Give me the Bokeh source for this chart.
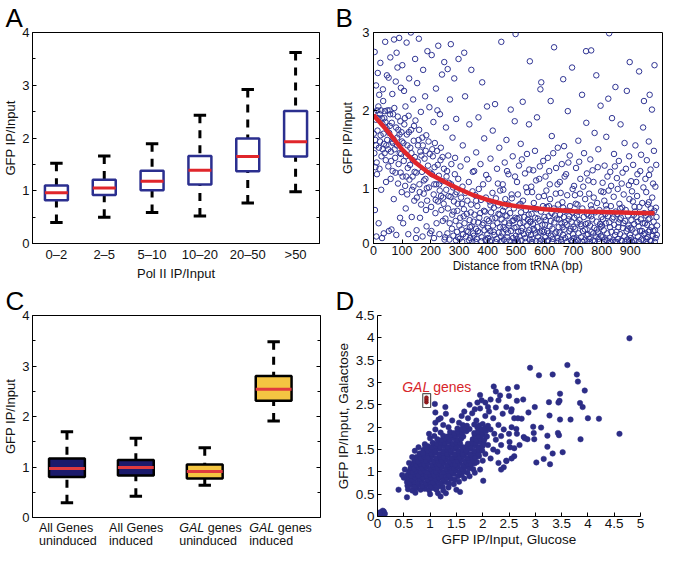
from bokeh.plotting import figure
from bokeh.layouts import column, row
from bokeh.models import FixedTicker, LinearAxis, Label, Div
from bokeh.embed import file_html
from bokeh.resources import INLINE

FONT = "Liberation Sans"

# ---------------- Panel A data ----------------
A_CATS = ["0–2", "2–5", "5–10", "10–20", "20–50", ">50"]
A_LOW = [0.40, 0.50, 0.59, 0.52, 0.77, 0.98]
A_Q1 = [0.82, 0.92, 1.01, 1.12, 1.37, 1.65]
A_MED = [0.96, 1.05, 1.18, 1.39, 1.65, 1.93]
A_Q3 = [1.10, 1.21, 1.38, 1.66, 1.99, 2.51]
A_HIGH = [1.52, 1.66, 1.89, 2.43, 2.92, 3.62]
A_YTICKS = [0, 1, 2, 3, 4]

# ---------------- Panel B data ----------------
B_XTICKS = [0, 100, 200, 300, 400, 500, 600, 700, 800, 900]
B_YTICKS = [0.29, 1, 2, 3]
B_YLABELS = ["0", "1", "2", "3"]
FIT_X = [0, 50, 100, 150, 200, 250, 300, 350, 400, 450, 500, 600, 700, 800, 900, 985]
FIT_Y = [1.94, 1.73, 1.50, 1.32, 1.18, 1.08, 0.99, 0.91, 0.85, 0.80, 0.77, 0.73, 0.705, 0.695, 0.685, 0.68]
B_POINTS = [
    (3,1.45),(6,1.62),(8,1.88),(11,1.33),(14,1.74),(17,2.05),(19,1.52),(22,1.95),(25,1.68),(28,1.41),(31,1.83),(34,2.12),
    (37,1.57),(40,1.99),(43,1.36),(46,1.77),(48,1.62),(12,1.18),(2,1.98),(7,1.27),(16,1.9),(21,1.25),(26,2.0),(32,1.5),
    (38,1.9),(45,1.55),(4,2.75),(9,2.32),(15,2.48),(24,2.61),(33,2.27),(41,2.88),(47,2.45),(20,2.2),
    (5,0.72),(10,0.38),(18,0.55),(27,0.98),(36,0.42),(44,1.08),(30,0.36),
    (52,1.28),(55,1.71),(58,1.95),(61,1.47),(64,1.84),(67,1.22),(70,1.63),(73,2.03),(76,1.39),(79,1.78),(82,1.55),(85,1.92),
    (88,1.31),(91,1.69),(94,1.86),(97,1.44),(60,1.12),(86,1.06),(56,2.0),(68,1.58),(83,1.65),(98,1.72),
    (53,2.42),(59,2.68),(66,2.21),(72,2.91),(78,2.37),(84,2.55),(90,2.93),(96,2.29),(81,2.74),
    (54,0.45),(63,0.47),(71,0.86),(80,0.40),(93,0.62),(99,0.95),
    (102,1.15),(105,1.58),(108,1.82),(111,1.03),(114,1.41),(117,1.69),(120,1.26),(123,1.93),(126,1.11),(129,1.52),(132,1.75),
    (135,0.98),(138,1.36),(141,1.61),(144,1.21),(147,1.87),(118,0.92),(140,1.02),
    (101,2.58),(107,2.25),(116,2.87),(125,2.41),(131,3.0),(139,2.14),(146,2.66),(112,2.05),
    (104,0.55),(113,0.74),(122,0.41),(134,0.63),(143,0.84),(149,0.36),
    (152,0.88),(155,1.34),(158,1.62),(161,1.05),(164,1.47),(167,0.79),(170,1.21),(173,1.55),(176,0.93),(179,1.38),(182,1.12),
    (185,1.68),(188,0.84),(191,1.29),(194,1.01),(197,1.44),(160,1.75),(184,0.72),
    (153,2.35),(159,2.92),(166,1.98),(174,2.52),(181,2.18),(189,2.76),(196,2.04),
    (151,0.46),(163,0.62),(172,0.38),(186,0.51),(198,0.42),
    (202,0.76),(205,1.18),(208,1.41),(211,0.92),(214,1.27),(217,0.68),(220,1.05),(223,1.48),(226,0.83),(229,1.16),(232,0.97),
    (235,1.36),(238,0.72),(241,1.09),(244,0.88),(247,1.25),(215,1.58),(236,1.52),
    (204,2.71),(210,1.85),(219,2.28),(227,2.83),(233,1.95),(240,2.46),(248,2.62),(224,2.0),
    (203,0.45),(212,0.36),(221,0.55),(231,0.41),(243,0.58),(249,0.34),
    (252,0.61),(255,0.98),(258,1.22),(261,0.74),(264,1.07),(267,0.55),(270,0.89),(273,1.31),(276,0.66),(279,1.01),(282,0.83),
    (285,1.18),(288,0.58),(291,0.95),(294,0.71),(297,1.12),(262,1.42),(286,1.39),(275,0.48),(293,0.44),
    (254,1.78),(260,2.53),(268,2.14),(277,1.65),(283,2.41),(290,1.89),(298,2.66),(271,2.85),
    (251,0.37),(259,0.42),(266,0.34),(280,0.39),(289,0.33),(296,0.37),
    (302,0.35),(304,0.62),(307,0.88),(309,0.47),(312,1.02),(314,0.41),(317,0.73),(319,0.55),(322,0.94),(324,0.38),(327,0.67),
    (329,0.84),(332,0.44),(334,1.08),(337,0.59),(339,0.36),(342,0.79),(344,0.51),(347,0.96),(349,0.42),
    (305,1.28),(313,1.55),(321,2.18),(328,1.37),(336,1.82),(343,2.52),(348,1.21),(318,2.74),
    (352,0.39),(354,0.66),(357,0.91),(359,0.48),(362,0.35),(364,0.77),(367,0.56),(369,0.99),(372,0.43),(374,0.68),(377,0.85),
    (379,0.37),(382,0.53),(384,1.05),(387,0.71),(389,0.46),(392,0.34),(394,0.88),(397,0.6),(399,0.41),
    (353,1.22),(360,1.46),(368,1.91),(375,1.31),(381,2.36),(388,1.64),(395,1.17),(398,2.05),
    (402,0.36),(404,0.58),(407,0.83),(409,0.45),(412,0.69),(414,0.33),(417,0.94),(419,0.52),(422,0.75),(424,0.4),(427,0.62),
    (429,0.87),(432,0.35),(434,0.55),(437,0.78),(439,0.43),(442,0.66),(444,0.97),(447,0.38),(449,0.6),
    (403,1.12),(410,1.38),(418,1.74),(426,2.08),(433,1.25),(441,1.52),(448,2.88),(436,1.06),
    (452,0.42),(454,0.71),(457,0.34),(459,0.56),(462,0.86),(464,0.47),(467,0.64),(469,0.37),(472,0.79),(474,0.52),(477,0.33),
    (479,0.68),(482,0.45),(484,0.92),(487,0.58),(489,0.36),(492,0.74),(494,0.49),(497,0.62),(499,0.39),
    (453,1.05),(460,1.33),(466,1.62),(473,1.18),(481,2.01),(488,1.41),(495,1.86),(498,2.98),
    (502,0.35),(504,0.61),(507,0.44),(509,0.78),(512,0.38),(514,0.55),(517,0.69),(519,0.33),(522,0.49),(524,0.84),(527,0.41),
    (529,0.63),(532,0.36),(534,0.72),(537,0.52),(539,0.95),(542,0.43),(544,0.66),(547,0.34),(549,0.57),
    (503,1.08),(510,1.29),(516,1.57),(523,2.11),(531,1.19),(538,1.44),(545,1.82),(548,2.63),
    (552,0.4),(554,0.67),(557,0.35),(559,0.54),(562,0.81),(564,0.46),(567,0.62),(569,0.32),(572,0.73),(574,0.5),(577,0.38),
    (579,0.89),(582,0.58),(584,0.43),(587,0.7),(589,0.34),(592,0.53),(594,0.77),(597,0.44),(599,0.63),
    (553,1.02),(560,1.23),(566,1.48),(573,1.91),(581,1.12),(588,2.36),(595,1.35),(585,2.27),
    (602,0.37),(604,0.59),(607,0.76),(609,0.45),(612,0.33),(614,0.64),(617,0.51),(619,0.86),(622,0.39),(624,0.68),(627,0.48),
    (629,0.35),(632,0.74),(634,0.56),(637,0.42),(639,0.93),(642,0.61),(644,0.36),(647,0.79),(649,0.5),
    (603,1.15),(611,1.39),(618,1.05),(625,1.67),(633,2.81),(640,1.26),(646,1.52),(621,2.12),
    (652,0.43),(654,0.66),(657,0.34),(659,0.55),(662,0.82),(664,0.4),(667,0.63),(669,0.47),(672,0.36),(674,0.71),(677,0.53),
    (679,0.91),(682,0.38),(684,0.6),(687,0.45),(689,0.77),(692,0.33),(694,0.57),(697,0.69),(699,0.41),
    (653,1.08),(660,1.31),(668,1.54),(675,1.18),(681,1.99),(688,1.42),(696,2.55),(665,2.4),
    (702,0.36),(704,0.62),(707,0.48),(709,0.8),(712,0.34),(714,0.56),(717,0.7),(719,0.42),(722,0.59),(724,0.93),(727,0.37),
    (729,0.51),(732,0.74),(734,0.45),(737,0.63),(739,0.33),(742,0.86),(744,0.54),(747,0.4),(749,0.67),
    (703,1.03),(710,1.26),(718,1.61),(725,1.12),(731,2.2),(738,1.45),(746,1.84),(745,2.76),
    (752,0.41),(754,0.65),(757,0.35),(759,0.52),(762,0.78),(764,0.44),(767,0.6),(769,0.33),(772,0.88),(774,0.49),(777,0.69),
    (779,0.38),(782,0.57),(784,0.81),(787,0.43),(789,0.35),(792,0.72),(794,0.54),(797,0.39),(799,0.63),
    (753,1.1),(760,1.37),(768,1.23),(775,1.71),(781,2.45),(788,1.5),(796,2.06),(763,2.77),
    (802,0.37),(804,0.6),(807,0.46),(809,0.84),(812,0.34),(814,0.55),(817,0.73),(819,0.42),(822,0.64),(824,0.97),(827,0.36),
    (829,0.5),(832,0.77),(834,0.44),(837,0.61),(839,0.33),(842,0.89),(844,0.53),(847,0.4),(849,0.7),
    (803,1.07),(810,1.29),(816,1.66),(823,2.15),(830,1.21),(836,1.9),(843,1.44),(848,2.3),(826,2.99),
    (852,0.44),(854,0.67),(857,0.35),(859,0.56),(862,0.8),(864,0.41),(867,0.62),(869,0.33),(872,0.75),(874,0.49),(877,0.92),
    (879,0.38),(882,0.58),(884,0.72),(887,0.45),(889,0.34),(892,0.65),(894,0.52),(897,0.86),(899,0.4),
    (853,1.13),(860,1.35),(866,1.82),(873,1.2),(880,1.58),(888,2.25),(895,1.04),(898,2.62),
    (902,0.36),(904,0.59),(907,0.47),(909,0.83),(912,0.33),(914,0.54),(917,0.7),(919,0.43),(922,0.63),(924,0.9),(927,0.38),
    (929,0.51),(932,0.76),(934,0.45),(937,0.6),(939,0.34),(942,0.81),(944,0.55),(947,0.41),(949,0.68),
    (903,1.09),(910,1.3),(918,1.55),(925,1.18),(931,2.5),(938,1.43),(945,1.78),(948,2.12),
    (952,0.42),(954,0.65),(957,0.35),(959,0.53),(962,0.79),(964,0.44),(967,0.61),(969,0.33),(972,0.74),(974,0.5),(977,0.88),
    (979,0.39),(982,0.57),(984,0.71),(987,0.46),(989,0.36),(992,0.63),(994,0.52),(975,0.68),(961,0.37),
    (953,1.12),(958,1.36),(965,1.6),(971,1.24),(976,2.01),(983,1.48),(988,1.02),(985,2.58),(968,2.2),
    (455,0.98),(468,1.22),(485,0.87),(496,1.15),(506,0.92),(520,1.37),(535,1.01),(546,1.24),(556,0.95),(570,1.1),(583,1.28),
    (598,0.9),(606,0.97),(616,1.22),(630,1.45),(645,1.05),(656,0.94),(670,1.15),(683,1.33),(698,0.99),(706,0.91),(721,1.34),
    (735,1.02),(748,1.19),(756,0.93),(771,1.08),(786,1.27),(798,0.96),(806,0.95),(820,1.15),(833,1.03),(846,1.28),(856,0.99),
    (870,1.06),(885,1.25),(896,1.41),(906,0.96),(921,1.08),(935,1.22),(946,1.01),(956,0.95),(966,1.17),(980,1.06),(991,1.3),
    (301,0.52),(311,0.31),(316,0.64),(326,0.45),(335,0.33),(341,0.69),(346,0.31),(338,0.5),
    (351,0.57),(358,0.31),(366,0.45),(371,0.62),(378,0.32),(386,0.55),(391,0.7),(396,0.33),
    (401,0.49),(408,0.32),(416,0.61),(421,0.44),(428,0.31),(438,0.67),(443,0.5),(446,0.31),
    (451,0.32),(456,0.5),(463,0.65),(471,0.43),(476,0.55),(483,0.31),(491,0.59),(496,0.31),
    (501,0.5),(506,0.31),(511,0.62),(518,0.45),(526,0.56),(533,0.31),(541,0.6),(546,0.46),
    (551,0.57),(556,0.31),(561,0.48),(568,0.42),(576,0.61),(583,0.32),(591,0.45),(596,0.32),
    (601,0.53),(608,0.32),(613,0.42),(621,0.58),(626,0.31),(636,0.65),(641,0.44),(648,0.32),
    (651,0.6),(658,0.31),(663,0.5),(671,0.56),(678,0.31),(686,0.64),(691,0.48),(698,0.32),
    (701,0.5),(708,0.31),(713,0.65),(718,0.33),(726,0.54),(733,0.31),(741,0.47),(748,0.32),
    (751,0.55),(758,0.31),(763,0.64),(771,0.42),(776,0.32),(783,0.47),(791,0.31),(796,0.5),
    (801,0.52),(808,0.31),(813,0.67),(818,0.33),(826,0.56),(831,0.31),(841,0.63),(846,0.31),
    (851,0.31),(858,0.5),(863,0.6),(871,0.32),(876,0.55),(883,0.31),(891,0.48),(896,0.32),
    (901,0.49),(906,0.31),(913,0.66),(918,0.32),(926,0.57),(931,0.31),(941,0.45),(946,0.33),
    (951,0.55),(956,0.31),(963,0.6),(968,0.46),(973,0.32),(981,0.45),(986,0.31),(993,0.4),
    (310,0.8),(360,0.84),(410,0.78),(460,0.76),(515,0.8),(565,0.74),(615,0.77),(665,0.75),(715,0.79),(765,0.73),
    (815,0.78),(865,0.74),(915,0.76),(965,0.82),(990,0.75),
    (1,1.7),(9,1.55),(13,2.0),(23,1.6),(29,1.9),(35,1.7),(39,1.45),(42,1.85),(49,2.0),(51,1.5),(57,1.8),(62,1.35),
    (65,1.6),(69,1.95),(74,1.5),(77,1.2),(87,1.75),(92,1.45),(95,1.2),(100,1.6),(106,1.35),(110,1.9),(115,1.15),
    (119,1.55),(124,1.72),(128,1.3),(133,1.45),(137,1.15),(142,1.8),(145,1.4),(150,1.2),(156,1.55),(162,0.95),
    (168,1.42),(171,1.65),(177,1.1),(183,1.48),(187,1.0),(193,1.6),(199,1.2),(206,1.5),(213,1.05),(218,0.85),
    (225,1.3),(230,1.05),(237,0.9),(242,1.4),(246,0.8),(256,1.15),(263,0.9),(272,1.05),(281,0.7),(287,0.92),(295,0.8),
]

# ---------------- Panel C data ----------------
C_LINE1 = ["All Genes", "All Genes", "GAL genes", "GAL genes"]
C_LINE2 = ["uninduced", "induced", "uninduced", "induced"]
C_GROUP = ["all", "all", "gal", "gal"]
C_LOW = [0.29, 0.42, 0.64, 1.91]
C_Q1 = [0.80, 0.83, 0.77, 2.31]
C_MED = [0.97, 0.99, 0.91, 2.54]
C_Q3 = [1.17, 1.14, 1.05, 2.80]
C_HIGH = [1.70, 1.57, 1.38, 3.48]
C_YTICKS = [0, 1, 2, 3, 4]

# ---------------- Panel D data ----------------
D_XTICKS = [0, 0.5, 1, 1.5, 2, 2.5, 3, 3.5, 4, 4.5, 5]
D_XLABELS = ["0", "0.5", "1", "1.5", "2", "2.5", "3", "3.5", "4", "4.5", "5"]
D_YTICKS = [0, 0.5, 1, 1.5, 2, 2.5, 3, 3.5, 4, 4.5]
D_YLABELS = ["0", "0.5", "1", "1.5", "2", "2.5", "3", "3.5", "4", "4.5"]
D_POINTS = [
    (0.58,0.61),(0.66,0.58),(0.74,0.63),(0.82,0.6),(0.9,0.62),(0.98,0.59),(1.06,0.64),(1.12,0.6),
    (0.57,0.69),(0.64,0.7),(0.71,0.67),(0.79,0.71),(0.86,0.68),(0.94,0.7),(1.01,0.67),(1.09,0.71),(1.17,0.68),(1.24,0.66),
    (0.56,0.77),(0.62,0.75),(0.69,0.78),(0.77,0.76),(0.84,0.79),(0.91,0.75),(0.99,0.78),(1.06,0.76),(1.14,0.79),(1.21,0.75),
    (1.29,0.77),(1.36,0.74),
    (0.58,0.85),(0.65,0.83),(0.72,0.86),(0.8,0.84),(0.87,0.87),(0.95,0.83),(1.02,0.86),(1.1,0.84),(1.17,0.87),(1.25,0.83),
    (1.32,0.86),(1.4,0.84),(1.47,0.82),
    (0.57,0.93),(0.64,0.91),(0.71,0.94),(0.78,0.92),(0.86,0.95),(0.93,0.91),(1.0,0.94),(1.08,0.92),(1.15,0.95),(1.22,0.91),
    (1.3,0.94),(1.37,0.92),(1.45,0.95),(1.53,0.9),(1.6,0.93),
    (0.6,1.01),(0.67,0.99),(0.74,1.02),(0.82,1.0),(0.89,1.03),(0.96,0.99),(1.04,1.02),(1.11,1.0),(1.19,1.03),(1.26,0.99),
    (1.34,1.02),(1.41,1.0),(1.49,1.03),(1.56,0.99),(1.64,1.01),(1.71,0.98),
    (0.63,1.09),(0.7,1.07),(0.78,1.1),(0.85,1.08),(0.93,1.11),(1.0,1.07),(1.07,1.1),(1.15,1.08),(1.22,1.11),(1.3,1.07),
    (1.37,1.1),(1.45,1.08),(1.52,1.11),(1.6,1.07),(1.67,1.1),(1.75,1.08),(1.82,1.06),
    (0.66,1.17),(0.74,1.15),(0.81,1.18),(0.89,1.16),(0.96,1.19),(1.04,1.15),(1.11,1.18),(1.18,1.16),(1.26,1.19),(1.33,1.15),
    (1.41,1.18),(1.48,1.16),(1.56,1.19),(1.63,1.15),(1.71,1.18),(1.78,1.16),(1.85,1.19),
    (0.7,1.25),(0.77,1.23),(0.85,1.26),(0.92,1.24),(1.0,1.27),(1.07,1.23),(1.15,1.26),(1.22,1.24),(1.3,1.27),(1.37,1.23),
    (1.44,1.26),(1.52,1.24),(1.59,1.27),(1.67,1.23),(1.74,1.26),(1.82,1.24),(1.89,1.22),
    (0.74,1.33),(0.82,1.31),(0.89,1.34),(0.97,1.32),(1.04,1.35),(1.12,1.31),(1.19,1.34),(1.26,1.32),(1.34,1.35),(1.41,1.31),
    (1.49,1.34),(1.56,1.32),(1.64,1.35),(1.71,1.31),(1.79,1.34),(1.86,1.32),(1.93,1.35),
    (0.8,1.41),(0.88,1.39),(0.95,1.42),(1.03,1.4),(1.1,1.43),(1.18,1.39),(1.25,1.42),(1.33,1.4),(1.4,1.43),(1.47,1.39),
    (1.55,1.42),(1.62,1.4),(1.7,1.43),(1.77,1.39),(1.85,1.42),(1.92,1.4),
    (0.87,1.49),(0.95,1.47),(1.02,1.5),(1.1,1.48),(1.17,1.51),(1.25,1.47),(1.32,1.5),(1.39,1.48),(1.47,1.51),(1.54,1.47),
    (1.62,1.5),(1.69,1.48),(1.77,1.51),(1.84,1.47),(1.92,1.5),(1.99,1.48),
    (0.96,1.57),(1.04,1.55),(1.11,1.58),(1.19,1.56),(1.26,1.59),(1.34,1.55),(1.41,1.58),(1.49,1.56),(1.56,1.59),(1.63,1.55),
    (1.71,1.58),(1.78,1.56),(1.86,1.59),(1.93,1.55),(2.0,1.58),
    (1.05,1.65),(1.13,1.63),(1.2,1.66),(1.28,1.64),(1.35,1.67),(1.43,1.63),(1.5,1.66),(1.57,1.64),(1.72,1.63),(1.8,1.66),
    (1.87,1.64),(1.95,1.67),(2.02,1.63),
    (1.14,1.73),(1.22,1.71),(1.29,1.74),(1.37,1.72),(1.44,1.75),(1.52,1.71),(1.59,1.74),(1.81,1.73),(1.88,1.71),(1.96,1.74),
    (2.03,1.72),
    (1.25,1.81),(1.33,1.79),(1.4,1.82),(1.48,1.8),(1.55,1.83),(1.63,1.79),(1.85,1.82),(1.92,1.8),(2.0,1.83),(2.08,1.79),
    (1.38,1.89),(1.46,1.87),(1.53,1.9),(1.61,1.88),(1.69,1.91),(1.84,1.87),(1.91,1.9),(1.99,1.88),(2.06,1.91),
    (1.52,1.97),(1.6,1.95),(1.67,1.98),(1.75,1.96),(1.9,1.99),(1.98,1.95),(2.05,1.98),
    (1.62,2.05),(1.7,2.03),(1.84,2.06),(1.93,2.04),(2.0,2.07),(2.1,2.03),
    (0.47,0.93),(0.52,1.05),(0.6,1.2),(0.66,1.33),(0.71,1.47),(0.78,1.55),(0.9,1.62),(1.0,1.75),(1.08,1.8),
    (0.98,1.85),(1.1,1.95),(1.2,1.88),(1.25,2.05),(1.35,2.0),(1.42,2.15),(1.55,2.1),(1.6,2.25),(1.72,2.2),(1.8,2.31),
    (1.88,2.15),(1.95,2.42),(2.05,2.25),(2.12,2.35),(2.05,2.55),(2.15,2.62),(1.98,2.6),(2.2,2.2),(2.15,1.95),(2.22,1.85),
    (2.3,2.05),(2.35,1.8),(2.1,1.6),(2.2,1.5),(2.25,1.72),(2.4,1.95),(2.38,2.3),(2.45,2.45),(2.28,1.45),(2.15,1.3),
    (2.05,1.4),(2.0,1.25),(1.95,1.05),(1.85,0.98),(1.75,0.9),(1.65,0.85),(1.55,0.78),(1.45,0.72),(1.35,0.65),(1.25,0.58),
    (1.15,0.52),(1.0,0.5),(1.2,0.45),(1.5,0.6),(1.3,0.52),(2.35,1.6),(2.45,1.25),(2.4,1.1),(2.3,1.2),(2.52,1.55),
    (2.6,1.35),(1.1,2.1),(1.2,2.2),(1.3,2.3),(1.16,2.17),(1.65,2.35),(1.75,2.5),(1.9,2.55),(1.95,2.72),(2.1,2.45),
    (1.85,2.4),(2.25,2.8),(2.3,2.6),(2.5,2.7),(2.55,2.4),(2.6,2.2),(2.55,2.0),(2.5,1.85),(2.65,1.85),(2.7,1.6),
    (2.55,1.3),(2.35,1.05),
    (4.79,3.99),(4.60,1.85),(4.21,2.19),(4.0,2.2),(3.86,1.73),(3.67,2.17),(3.94,2.82),(3.85,2.54),(3.90,2.45),(3.79,3.18),
    (3.81,3.02),(3.61,3.39),(3.47,2.75),(3.46,2.59),(3.44,2.55),(3.47,2.17),(3.43,1.87),(3.45,1.82),(3.52,1.44),(2.90,3.33),
    (3.07,3.16),(3.33,3.18),(3.26,2.56),(3.27,2.26),(3.23,1.81),(3.23,1.56),(3.33,1.41),(3.28,1.17),(3.16,1.29),(3.02,1.21),
    (3.11,1.99),(2.96,2.01),(2.97,1.87),(2.85,1.73),(2.98,1.73),(2.87,2.33),(2.99,2.45),(2.77,2.62),(2.65,2.90),(2.48,2.86),
    (2.65,2.59),(2.67,2.20),(2.74,2.19),(2.78,1.78),(2.80,1.75),(2.64,1.96),(2.54,2.35),(2.51,1.67),(2.60,1.53),(2.45,1.24),
    (2.21,2.91),(2.33,2.71),(2.25,2.44),(1.09,2.52),(1.29,2.45),(1.1,2.33),(0.91,1.56),(0.86,1.42),(0.50,0.87),(0.40,0.60),
    (0.56,0.43),(0.72,0.53),(1.57,0.55),(2.01,0.80),
    (0.05,0.05),(0.08,0.1),(0.1,0.07),(0.12,0.11),(0.07,0.03),(0.14,0.06),(0.1,0.13),(0.04,0.09),
]
D_GAL_POINTS = [(0.93, 2.56), (0.93, 2.61), (0.93, 2.66)]
GAL_LABEL_AT = (0.47, 2.91)

# ---------------- styles ----------------
BLUE_BOX = "#2b2f8f"
RED = "#e0262b"
NAVY = "#1b1a6c"
GOLD = "#f4c542"
CIRCLE_BLUE = "#303594"
DOT_BLUE = "#2c2d86"
TXT = "#111111"
GROUP_FILL = {"all": NAVY, "gal": GOLD}
LETTER_SIZE = "26px"


def base_fig(letter, letter_offset, **kw):
    p = figure(output_backend="svg", toolbar_location=None, **kw)
    p.grid.visible = False
    p.background_fill_color = "white"
    p.border_fill_color = "white"
    p.outline_line_color = "black"
    p.outline_line_width = 1
    p.title.text = letter
    p.title.align = "left"
    p.title.offset = letter_offset
    p.title.standoff = 0
    p.title.text_font = FONT
    p.title.text_font_size = LETTER_SIZE
    p.title.text_font_style = "normal"
    p.title.text_color = "black"
    return p


def style_axis(ax, size, label_size=None):
    ax.major_label_text_font = FONT
    ax.major_label_text_font_size = size
    ax.major_label_text_color = TXT
    ax.axis_label_text_font = FONT
    ax.axis_label_text_font_style = "normal"
    ax.axis_label_text_font_size = label_size or size
    ax.axis_label_text_color = TXT
    ax.axis_line_color = "black"
    ax.major_tick_line_color = "black"
    ax.minor_tick_line_color = "black"
    ax.major_tick_in = 4
    ax.major_tick_out = 0
    ax.minor_tick_in = 0
    ax.minor_tick_out = 0


def boxplot(p, pos, low, q1, med, q3, high, half, cap, box_line, fills, med_color):
    p.segment(x0=pos, y0=high, x1=pos, y1=q3, line_color="black", line_width=3, line_dash="8 7")
    p.segment(x0=pos, y0=low, x1=pos, y1=q1, line_color="black", line_width=3, line_dash="8 7")
    p.segment(x0=[x - cap for x in pos], y0=high, x1=[x + cap for x in pos], y1=high, line_color="black", line_width=3)
    p.segment(x0=[x - cap for x in pos], y0=low, x1=[x + cap for x in pos], y1=low, line_color="black", line_width=3)
    p.quad(left=[x - half for x in pos], right=[x + half for x in pos], bottom=q1, top=q3,
           fill_color=fills, line_color=box_line, line_width=2.5)
    p.segment(x0=[x - half for x in pos], y0=med, x1=[x + half for x in pos], y1=med, line_color=med_color, line_width=3)


def int_ticks_with_halves(ticks):
    return FixedTicker(ticks=ticks, minor_ticks=[t + 0.5 for t in ticks[:-1]])


def right_ticks(p, ticks):
    ax = LinearAxis(ticker=int_ticks_with_halves(ticks))
    style_axis(ax, "1px")
    ax.major_label_text_color = None
    ax.major_label_standoff = 0
    ax.minor_tick_in = 3
    ax.axis_line_color = None
    p.add_layout(ax, "right")


# ---------------- Panel A ----------------
A_POS = [i + 1 for i in range(len(A_CATS))]
pA = base_fig("A", -27, width=332, height=283, x_range=(0.5, len(A_CATS) + 0.5), y_range=(0, 4),
              min_border_left=27, min_border_right=13, min_border_top=0, min_border_bottom=32)
boxplot(pA, A_POS, A_LOW, A_Q1, A_MED, A_Q3, A_HIGH, 0.24, 0.13, BLUE_BOX, "white", RED)
style_axis(pA.xaxis[0], "13px")
pA.xaxis.ticker = FixedTicker(ticks=A_POS)
pA.xaxis.major_label_overrides = dict(zip(A_POS, A_CATS))
pA.xaxis.major_tick_in = 0
pA.xaxis.major_label_standoff = 3
pA.xaxis.axis_label = "Pol II IP/Input"
pA.xaxis.axis_label_standoff = 1
style_axis(pA.yaxis[0], "13px")
pA.yaxis.ticker = int_ticks_with_halves(A_YTICKS)
pA.yaxis.minor_tick_in = 3
pA.yaxis.major_label_standoff = 3
pA.yaxis.axis_label = "GFP IP/Input"
pA.yaxis.axis_label_standoff = 1
right_ticks(pA, A_YTICKS)

# ---------------- Panel B ----------------
bx = [pt[0] for pt in B_POINTS]
by = [pt[1] for pt in B_POINTS]
pB = base_fig("B", -38, width=332, height=283, x_range=(0, 1013), y_range=(0.29, 3.0),
              min_border_left=41, min_border_right=2, min_border_top=0, min_border_bottom=32)
pB.scatter(bx, by, marker="circle", size=5.5, fill_color=None, line_color=CIRCLE_BLUE, line_width=1.0)
pB.line(FIT_X, FIT_Y, line_color=RED, line_width=4.5)
style_axis(pB.xaxis[0], "12.5px", "12px")
pB.xaxis.ticker = FixedTicker(ticks=B_XTICKS)
pB.xaxis.major_label_standoff = 2
pB.xaxis.axis_label = "Distance from tRNA (bp)"
pB.xaxis.axis_label_standoff = 1
style_axis(pB.yaxis[0], "13px", "12.5px")
pB.yaxis.ticker = FixedTicker(ticks=B_YTICKS)
pB.yaxis.major_label_overrides = dict(zip(B_YTICKS, B_YLABELS))
pB.yaxis.major_label_standoff = 4
pB.yaxis.axis_label = "GFP IP/Input"
pB.yaxis.axis_label_standoff = 4

# ---------------- Panel C ----------------
C_POS = [i + 1 for i in range(len(C_LINE1))]
C_XR = (0.5, 4.68)
C_LEFT, C_RIGHT, C_W = 27, 12, 332
pC = base_fig("C", -C_LEFT, width=C_W, height=242, x_range=C_XR, y_range=(0, 4),
              min_border_left=C_LEFT, min_border_right=C_RIGHT, min_border_top=0, min_border_bottom=8)
boxplot(pC, C_POS, C_LOW, C_Q1, C_MED, C_Q3, C_HIGH, 0.26, 0.09, "black",
        [GROUP_FILL[g] for g in C_GROUP], "#e03a3e")
pC.xaxis.visible = False
style_axis(pC.yaxis[0], "13px")
pC.yaxis.ticker = int_ticks_with_halves(C_YTICKS)
pC.yaxis.minor_tick_in = 3
pC.yaxis.major_label_standoff = 3
pC.yaxis.axis_label = "GFP IP/Input"
pC.yaxis.axis_label_standoff = 1
right_ticks(pC, C_YTICKS)

# category labels under panel C (two lines, "GAL" in italics)
frame_w = C_W - C_LEFT - C_RIGHT
spans = []
for x, l1, l2 in zip(C_POS, C_LINE1, C_LINE2):
    left = C_LEFT + (x - C_XR[0]) / (C_XR[1] - C_XR[0]) * frame_w - 23
    first = ("<i>GAL</i>" + l1[3:]) if l1.startswith("GAL") else l1
    spans.append(f'<div style="position:absolute;left:{left:.1f}px;top:-3px;white-space:nowrap;">'
                 f'{first}<br>{l2}</div>')
c_html = (f'<div style="position:relative;width:{C_W}px;height:24px;overflow:visible;font-family:\'{FONT}\';'
          f'font-size:12.5px;line-height:13px;color:{TXT};">' + "".join(spans) + "</div>")
divC = Div(text=c_html, width=C_W, height=24, margin=(0, 0, 0, 0), styles={"overflow": "visible"})

# ---------------- Panel D ----------------
dx = [pt[0] for pt in D_POINTS]
dy = [pt[1] for pt in D_POINTS]
gx = [pt[0] for pt in D_GAL_POINTS]
gy = [pt[1] for pt in D_GAL_POINTS]
pD = base_fig("D", -42, width=332, height=266, x_range=(0, 5), y_range=(0, 4.5),
              min_border_left=42, min_border_right=24, min_border_top=0, min_border_bottom=32)
pD.outline_line_color = None
pD.scatter(dx, dy, marker="circle", size=5.5, fill_color=DOT_BLUE, line_color=DOT_BLUE, line_width=0.5)
pD.quad(left=[min(gx) - 0.07], right=[max(gx) + 0.08], bottom=[min(gy) - 0.12], top=[max(gy) + 0.09],
        fill_color="white", line_color="#555555", line_width=1.2)
pD.scatter(gx, gy, marker="circle", size=4, fill_color="#9b1c20", line_color="#6d1014", line_width=0.5)
style_axis(pD.xaxis[0], "13.5px", "13.5px")
pD.xaxis.ticker = FixedTicker(ticks=D_XTICKS)
pD.xaxis.major_label_overrides = dict(zip(D_XTICKS, D_XLABELS))
pD.xaxis.major_label_standoff = 2
pD.xaxis.axis_label = "GFP IP/Input, Glucose"
pD.xaxis.axis_label_standoff = 1
style_axis(pD.yaxis[0], "13.5px", "13.5px")
pD.yaxis.ticker = FixedTicker(ticks=D_YTICKS)
pD.yaxis.major_label_overrides = dict(zip(D_YTICKS, D_YLABELS))
pD.yaxis.major_label_standoff = 3
pD.yaxis.axis_label = "GFP IP/Input, Galactose"
pD.yaxis.axis_label_standoff = 2
lab = dict(x=GAL_LABEL_AT[0], y=GAL_LABEL_AT[1], text_font=FONT, text_font_size="14px",
           text_color="#d7262b", text_align="left", text_baseline="middle")
pD.add_layout(Label(text="GAL", text_font_style="italic", **lab))
pD.add_layout(Label(text="genes", x_offset=31, **lab))

layout = column(row(pA, pB), row(column(pC, divC), pD))
open("out.html", "w").write(file_html(layout, INLINE))
